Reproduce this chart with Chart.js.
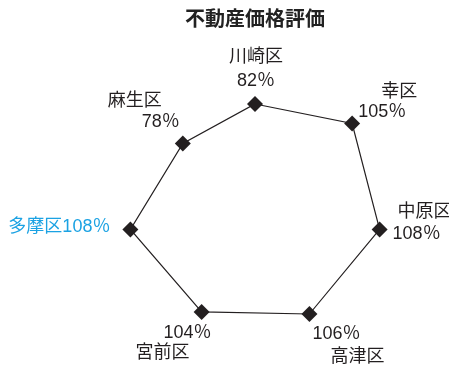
<!DOCTYPE html>
<html lang="ja">
<head>
<meta charset="utf-8">
<title>不動産価格評価</title>
<script src="https://cdn.jsdelivr.net/npm/chart.js@4.4.1/dist/chart.umd.min.js"></script>
<style>
    html, body { margin: 0; padding: 0; background: #fff; }
    #chart-wrap { width: 449px; height: 368px; }
</style>
</head>
<body>
<div id="chart-wrap"><canvas id="price-chart" width="449" height="368"></canvas></div>
<script>
// 区ごとの評価値（％）
const wards = ['川崎区', '幸区', '中原区', '高津区', '宮前区', '多摩区', '麻生区'];
const ratings = [82, 105, 108, 106, 104, 108, 78];
const highlightWard = '多摩区';

const LABEL_FONT = '18px "Liberation Sans", "Noto Sans CJK JP", sans-serif';
const INK = '#231f20';
const BLUE = '#1ba2e3';

// ラベルの配置（マーカー中心からのずれ）。'name' は区名、'value' は値の行
const labelLayout = [
    [{ part: 'name', dx: 1, dy: -47, align: 'center' }, { part: 'value', dx: 1, dy: -23, align: 'center' }],
    [{ part: 'name', dx: 29, dy: -32, align: 'left' }, { part: 'value', dx: 6, dy: -12, align: 'left' }],
    [{ part: 'name', dx: 18, dy: -17, align: 'left' }, { part: 'value', dx: 13, dy: 5, align: 'left' }],
    [{ part: 'value', dx: 3, dy: 20, align: 'left' }, { part: 'name', dx: 21, dy: 43, align: 'left' }],
    [{ part: 'value', dx: 10, dy: 21, align: 'right' }, { part: 'name', dx: -12, dy: 41, align: 'right' }],
    [{ part: 'both', dx: -20, dy: -2, align: 'right' }],
    [{ part: 'name', dx: -21, dy: -42, align: 'right' }, { part: 'value', dx: -3, dy: -21, align: 'right' }]
];

const pointLabelPlugin = {
    id: 'pointLabelPlugin',
    afterDatasetsDraw(chart) {
        const ctx = chart.ctx;
        const points = chart.getDatasetMeta(0).data;
        ctx.save();
        ctx.font = LABEL_FONT;
        ctx.textBaseline = 'middle';
        points.forEach((pt, i) => {
            const name = wards[i];
            const value = ratings[i] + '％';
            ctx.fillStyle = name === highlightWard ? BLUE : INK;
            labelLayout[i].forEach(line => {
                let text = line.part === 'name' ? name : value;
                if (line.part === 'both') text = name + value;
                ctx.textAlign = line.align;
                ctx.fillText(text, pt.x + line.dx, pt.y + line.dy);
            });
        });
        ctx.restore();
    }
};

new Chart(document.getElementById('price-chart'), {
    type: 'radar',
    data: {
        labels: wards,
        datasets: [{
            data: ratings,
            fill: false,
            borderColor: INK,
            borderWidth: 1.2,
            pointStyle: 'rectRot',
            pointRadius: 8,
            pointHoverRadius: 8,
            pointBackgroundColor: INK,
            pointBorderColor: INK,
            pointBorderWidth: 0
        }]
    },
    options: {
        responsive: false,
        animation: false,
        layout: { padding: { left: 61, right: 0, top: 0, bottom: 25 } },
        elements: { line: { tension: 0 } },
        scales: {
            r: {
                display: false,
                min: 0,
                max: 120,
                ticks: { display: false },
                grid: { display: false },
                angleLines: { display: false },
                pointLabels: { display: false }
            }
        },
        plugins: {
            legend: { display: false },
            tooltip: { enabled: false },
            title: {
                display: true,
                text: '不動産価格評価',
                color: '#222',
                font: { family: '"Noto Sans CJK JP", sans-serif', size: 20, weight: 'bold' },
                padding: { top: 6, bottom: 29 }
            }
        }
    },
    plugins: [pointLabelPlugin]
});
</script>
</body>
</html>
